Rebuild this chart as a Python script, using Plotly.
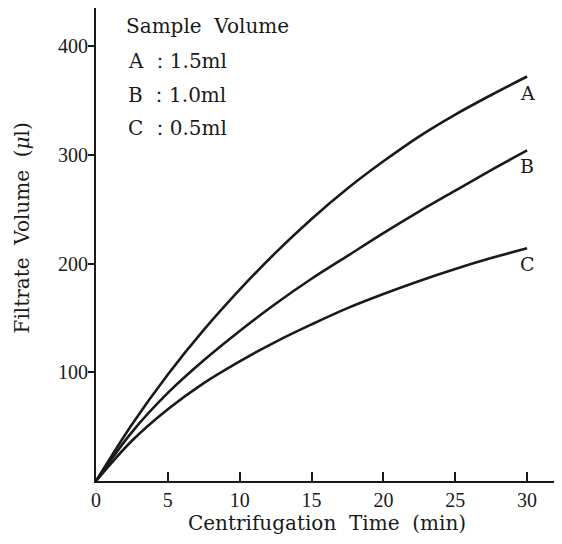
import plotly.graph_objects as go

# centrifugation time (min)
time_min = [0, 2.5, 5, 7.5, 10, 12.5, 15, 17.5, 20, 22.5, 25, 27.5, 30]

# filtrate volume (ul)
vol_a = [0, 52, 98, 139, 176, 210, 241, 269, 294, 317, 337, 355, 372]
vol_b = [0, 45, 81, 111, 138, 163, 186, 207, 228, 248, 267, 286, 304]
vol_c = [0, 37, 66, 90, 110, 128, 144, 159, 172, 184, 195, 205, 214]

series_names = ["A", "B", "C"]
legend_title = "Sample  Volume"
legend_rows = ["A ：1.5ml", "B ：1.0ml", "C ：0.5ml"]

x_ticks = [0, 5, 10, 15, 20, 25, 30]
y_ticks = [100, 200, 300, 400]

TEXT_FONT = "DejaVu Serif"
TICK_FONT = "Liberation Serif"

fig = go.Figure()

for name, vols in zip(series_names, [vol_a, vol_b, vol_c]):
    fig.add_trace(
        go.Scatter(
            x=time_min,
            y=vols,
            mode="lines",
            name=name,
            line=dict(color="#1a1a1a", width=2.6, shape="spline"),
            showlegend=False,
        )
    )
    # curve letter just below the end of each line
    fig.add_annotation(
        x=time_min[-1],
        y=vols[-1],
        text=name,
        showarrow=False,
        xanchor="center",
        yanchor="top",
        yshift=-3,
        font=dict(family=TEXT_FONT, size=19, color="#1a1a1a"),
    )

# legend block, top left
fig.add_annotation(
    x=0.06,
    y=0.962,
    xref="paper",
    yref="paper",
    text=legend_title,
    showarrow=False,
    xanchor="left",
    yanchor="middle",
    font=dict(family=TEXT_FONT, size=20, color="#1a1a1a"),
)
for i, row in enumerate(legend_rows):
    fig.add_annotation(
        x=0.064,
        y=0.888 - i * 0.071,
        xref="paper",
        yref="paper",
        text=row,
        showarrow=False,
        xanchor="left",
        yanchor="middle",
        font=dict(family=TEXT_FONT, size=20, color="#1a1a1a"),
    )

# y axis title, set a bit above centre as in the original
fig.add_annotation(
    x=-0.16,
    y=0.534,
    xref="paper",
    yref="paper",
    text="Filtrate  Volume  (<i>μ</i>l)",
    textangle=-90,
    showarrow=False,
    xanchor="center",
    yanchor="middle",
    font=dict(family=TEXT_FONT, size=20, color="#1a1a1a"),
)

# page body adds 8px offset, margins compensate for it
fig.update_layout(
    width=562,
    height=544,
    margin=dict(l=88, r=12, t=0, b=71),
    plot_bgcolor="white",
    paper_bgcolor="white",
    showlegend=False,
)

fig.update_xaxes(
    range=[0, 32.15],
    tickvals=x_ticks,
    ticks="inside",
    ticklen=9,
    tickwidth=2,
    tickcolor="#1a1a1a",
    showline=True,
    linecolor="#1a1a1a",
    linewidth=2,
    showgrid=False,
    zeroline=False,
    tickfont=dict(family=TICK_FONT, size=20, color="#1a1a1a"),
    title=dict(
        text="Centrifugation  Time  (min)",
        font=dict(family=TEXT_FONT, size=20, color="#1a1a1a"),
        standoff=6,
    ),
)

fig.update_yaxes(
    range=[0, 435],
    tickvals=y_ticks,
    ticks="outside",
    ticklen=6,
    tickwidth=1.5,
    tickcolor="#1a1a1a",
    ticklabelstandoff=-4,
    showline=True,
    linecolor="#1a1a1a",
    linewidth=2,
    showgrid=False,
    zeroline=False,
    tickfont=dict(family=TICK_FONT, size=20, color="#1a1a1a"),
)

fig.write_html("out.html")
